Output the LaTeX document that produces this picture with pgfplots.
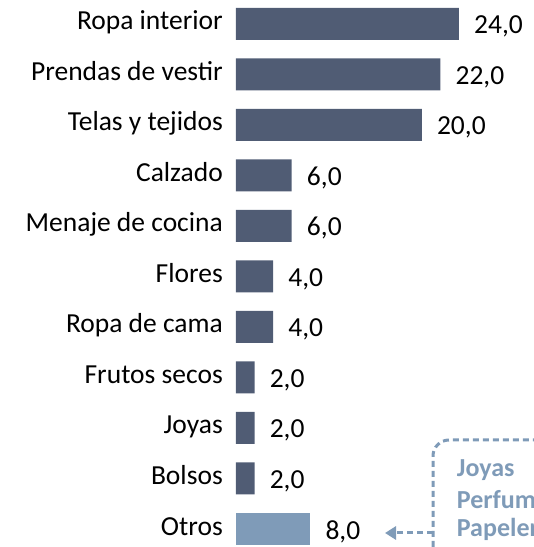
\documentclass[border=0pt]{standalone}
\usepackage{pgfplots}
\pgfplotsset{compat=1.18}
\usepackage{fontspec}
\setmainfont{Carlito}
\usetikzlibrary{arrows.meta}
\definecolor{barDark}{RGB}{80,92,116}
\definecolor{barLight}{RGB}{127,155,184}
\begin{document}
\begin{tikzpicture}[x=1pt,y=1pt]
\useasboundingbox (0,0) rectangle (534,547);
\clip (0,0) rectangle (534,547);
\begin{axis}[
  at={(236pt,18pt)}, anchor=south west,
  scale only axis, width=223pt, height=505pt,
  xmin=0, xmax=24, ymin=0, ymax=10,
  clip=false,
  xbar, bar width=32pt, bar shift=0pt,
  hide x axis,
  axis line style={draw=none},
  tick style={draw=none},
  ytick={0,1,2,3,4,5,6,7,8,9,10},
  yticklabels={Otros,Bolsos,Joyas,Frutos secos,Ropa de cama,Flores,Menaje de cocina,Calzado,Telas y tejidos,Prendas de vestir,Ropa interior},
  major tick length=0pt,
  yticklabel style={anchor=base east, inner sep=0pt, xshift=-13pt, yshift=-6pt, font=\fontsize{27.5}{33}\selectfont, text=black},
  nodes near coords,
  nodes near coords style={/pgf/number format/fixed, /pgf/number format/fixed zerofill, /pgf/number format/precision=1, /pgf/number format/use comma, /pgf/number format/assume math mode=true},
  every node near coord/.append style={anchor=base west, inner sep=0pt, xshift=15pt, yshift=-10pt, font=\fontsize{27.5}{33}\selectfont, text=black},
]
\addplot[fill=barDark, draw=none] coordinates {
  (2,1) (2,2) (2,3) (4,4) (4,5) (6,6) (6,7) (20,8) (22,9) (24,10)};
\addplot[fill=barLight, draw=none] coordinates {(8,0)};
\end{axis}
\draw[barLight, line width=3pt, dash pattern=on 6pt off 4pt, rounded corners=16pt]
  (433,-10) -- (433,107) -- (600,107);
\draw[barLight, line width=3pt, dash pattern=on 6pt off 4pt, -{Triangle[length=11pt,width=13pt]}]
  (433,14) -- (385,14);
\begin{scope}[every node/.style={anchor=base west, inner sep=0pt, text=barLight, font=\fontsize{26}{30}\bfseries}]
\node at (456.7,70) {Joyas};
\node at (456.7,38) {Perfumería};
\node at (456.7,10) {Papelería};
\end{scope}
\end{tikzpicture}
\end{document}
